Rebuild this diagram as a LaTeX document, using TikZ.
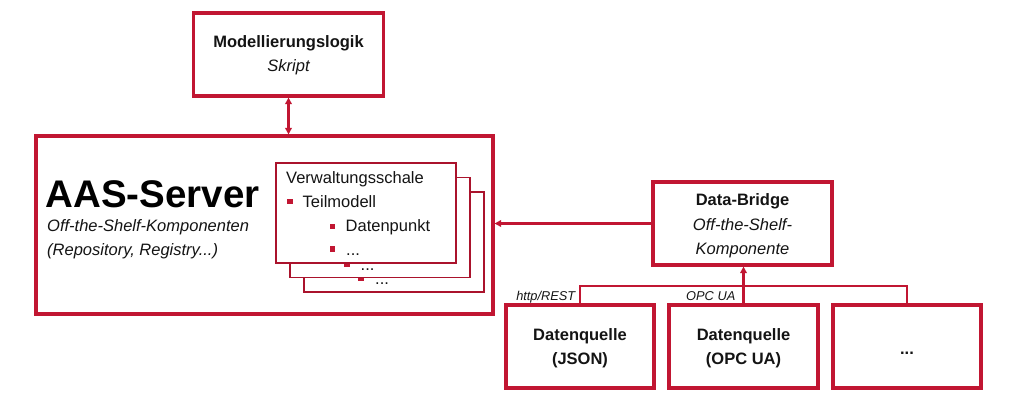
\documentclass[tikz,border=0pt]{standalone}
\usepackage{fontspec}
\setmainfont{Liberation Sans}
\usetikzlibrary{arrows.meta}
\definecolor{aasred}{RGB}{193,22,50}
\definecolor{txt}{RGB}{20,20,20}
\begin{document}
\begin{tikzpicture}[x=1pt,y=-1pt,
  box/.style={draw=aasred,line width=3.1pt,fill=white,inner sep=0pt},
  stackbox/.style={draw=aasred!88!black,line width=1.8pt,fill=white,minimum width=180pt,minimum height=100pt,inner sep=0pt},
  conn/.style={draw=aasred,line width=2.1pt},
  arr/.style={conn,-{Triangle[length=6.5pt,width=6.5pt]}},
  dblarr/.style={conn,{Triangle[length=6.5pt,width=6.5pt]}-{Triangle[length=6.5pt,width=6.5pt]}},
  bul/.style={fill=aasred,minimum size=5.5pt,inner sep=0pt},
  t/.style={anchor=base,inner sep=0pt,text=txt,font=\fontsize{16.5}{19}\selectfont},
  tb/.style={t,font=\fontsize{16.5}{19}\selectfont\bfseries},
  ti/.style={t,font=\fontsize{16.5}{19}\selectfont\itshape},
  stxt/.style={t,anchor=base west},
  lbl/.style={anchor=base east,inner sep=0pt,text=txt,font=\fontsize{12.8}{14}\selectfont\itshape},
]
\useasboundingbox (0,0) rectangle (1024,418);

% Modellierungslogik
\node[box,minimum width=190pt,minimum height=83pt] (ml) at (288.5,54.5) {};
\node[tb] (mlt1) at (288.5,47.7) {Modellierungslogik};
\node[ti] (mlt2) at (288.5,71.7) {Skript};

% AAS server
\node[box,minimum width=457pt,minimum height=178pt] (aas) at (264.5,225) {};
\node[anchor=base west,inner sep=0pt,text=black,font=\fontsize{38.5}{44}\selectfont\bfseries] (aastitle) at (45.5,207) {AAS-Server};
\node[ti,anchor=base west] (aassub1) at (47,231) {Off-the-Shelf-Komponenten};
\node[ti,anchor=base west] (aassub2) at (47,255) {(Repository, Registry...)};

% stacked Verwaltungsschalen (back boxes: only their visible bullet and dots)
\node[stackbox] (s3) at (394,242) {};
\node[bul] (b33) at (361,278.3) {};
\node[stxt] (dt3) at (375,284.5) {...};
\node[stackbox] (s2) at (380,227.5) {};
\node[bul] (b32) at (347,264.3) {};
\node[stxt] (dt2) at (360.5,270) {...};
\node[stackbox] (s1) at (366,213) {};
\node[stxt] (vw1) at (286,183.5) {Verwaltungsschale};
\node[bul] (b11) at (290,201.7) {};
\node[stxt] (tm1) at (302.5,207.3) {Teilmodell};
\node[bul] (b21) at (332.5,226.7) {};
\node[stxt] (dp1) at (345.5,231.8) {Datenpunkt};
\node[bul] (b31) at (332.5,249) {};
\node[stxt] (dt1) at (346,255.5) {...};

% Data-Bridge
\node[box,minimum width=179pt,minimum height=83pt] (db) at (742.5,223.5) {};
\node[tb] (dbt1) at (742.5,205.7) {Data-Bridge};
\node[ti] (dbt2) at (742.5,230) {Off-the-Shelf-};
\node[ti] (dbt3) at (742.5,254) {Komponente};

% Data sources
\node[box,minimum width=148pt,minimum height=83pt] (dq1) at (580,346.5) {};
\node[tb] (dq1a) at (580,340) {Datenquelle};
\node[tb] (dq1b) at (580,364.3) {(JSON)};
\node[box,minimum width=149pt,minimum height=83pt] (dq2) at (743.5,346.5) {};
\node[tb] (dq2a) at (743.5,340) {Datenquelle};
\node[tb] (dq2b) at (743.5,364.3) {(OPC UA)};
\node[box,minimum width=148pt,minimum height=83pt] (dq3) at (907,346.5) {};
\node[tb] (dq3a) at (907,354) {...};

% connectors
\coordinate (bus) at (0,286);
\draw[dblarr] (ml.south) -- (ml.south |- aas.north);
\draw[arr] (db.west) -- (db.west -| aas.east);
\draw[conn] (dq1.north) |- (dq3.north |- bus) -- (dq3.north);
\draw[arr] (dq2.north) -- (dq2.north |- db.south);

% labels
\node[lbl] (lrest) at (575.5,300.7) {http/REST};
\node[lbl] (lopc) at (735.5,300.7) {OPC UA};
\end{tikzpicture}
\end{document}
